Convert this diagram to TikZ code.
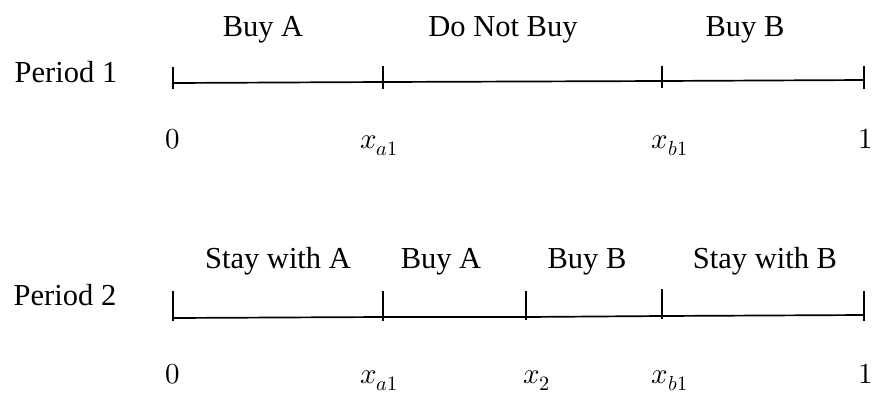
\documentclass[tikz,border=0pt]{standalone}
\usepackage{fontspec}
\usepackage{unicode-math}
\setmainfont{Liberation Serif}
\setmathfont{Latin Modern Math}
\begin{document}
\begin{tikzpicture}[yscale=-1
,pstyle0/.style={color=black,line width=1.7pt}
,pstyle1/.style={color=black,inner sep=0,anchor=base,font=\fontsize{30.5}{34}\selectfont}
,pstyle2/.style={color=black,inner sep=0,anchor=base,font=\fontsize{29}{32}\selectfont}
]
\useasboundingbox (0pt,0pt) rectangle (880pt,405pt);
% period 1
\node (per1) at (66pt,82pt)[pstyle1]{Period 1};
\coordinate (p1a) at (173pt,83pt);
\coordinate (p1b) at (383pt,82pt);
\coordinate (p1c) at (662pt,81pt);
\coordinate (p1d) at (864pt,80pt);
\coordinate (p1ta) at (173pt,67pt);
\coordinate (p1tb) at (383pt,66pt);
\coordinate (p1tc) at (662pt,66pt);
\coordinate (p1td) at (864pt,66pt);
\coordinate (p1ba) at (173pt,89pt);
\coordinate (p1bb) at (383pt,89pt);
\coordinate (p1bc) at (662pt,88pt);
\coordinate (p1bd) at (864pt,89pt);
\draw[pstyle0] (p1a) -- (p1b) -- (p1c) -- (p1d);
\draw[pstyle0] (p1ta) -- (p1ba);
\draw[pstyle0] (p1tb) -- (p1bb);
\draw[pstyle0] (p1tc) -- (p1bc);
\draw[pstyle0] (p1td) -- (p1bd);
\node (buya1) at (263pt,36pt)[pstyle1]{Buy A};
\node (nobuy) at (503pt,36pt)[pstyle1]{Do Not Buy};
\node (buyb1) at (745pt,36pt)[pstyle1]{Buy B};
\node (zero1) at (173pt,148pt)[pstyle2]{$0$};
\node (xa1) at (379pt,148pt)[pstyle2]{$x_{a1}$};
\node (xb1) at (670pt,148pt)[pstyle2]{$x_{b1}$};
\node (one1) at (866pt,148pt)[pstyle2]{$1$};
% period 2
\node (per2) at (65pt,305pt)[pstyle1]{Period 2};
\coordinate (p2a) at (173pt,318pt);
\coordinate (p2b) at (383pt,317pt);
\coordinate (p2c) at (526pt,317pt);
\coordinate (p2d) at (662pt,316pt);
\coordinate (p2e) at (864pt,315pt);
\coordinate (p2ta) at (173pt,291pt);
\coordinate (p2tb) at (383pt,291pt);
\coordinate (p2tc) at (526pt,291pt);
\coordinate (p2td) at (662pt,289pt);
\coordinate (p2te) at (864pt,291pt);
\coordinate (p2ba) at (173pt,321pt);
\coordinate (p2bb) at (383pt,321pt);
\coordinate (p2bc) at (526pt,320pt);
\coordinate (p2bd) at (662pt,319pt);
\coordinate (p2be) at (864pt,321pt);
\draw[pstyle0] (p2a) -- (p2b) -- (p2c) -- (p2d) -- (p2e);
\draw[pstyle0] (p2ta) -- (p2ba);
\draw[pstyle0] (p2tb) -- (p2bb);
\draw[pstyle0] (p2tc) -- (p2bc);
\draw[pstyle0] (p2td) -- (p2bd);
\draw[pstyle0] (p2te) -- (p2be);
\node (staya) at (278pt,268pt)[pstyle1]{Stay with A};
\node (buya2) at (441pt,268pt)[pstyle1]{Buy A};
\node (buyb2) at (587pt,268pt)[pstyle1]{Buy B};
\node (stayb) at (765pt,268pt)[pstyle1]{Stay with B};
\node (zero2) at (173pt,383pt)[pstyle2]{$0$};
\node (xa2) at (379pt,383pt)[pstyle2]{$x_{a1}$};
\node (xtwo) at (537pt,383pt)[pstyle2]{$x_{2}$};
\node (xb2) at (670pt,383pt)[pstyle2]{$x_{b1}$};
\node (one2) at (866pt,383pt)[pstyle2]{$1$};
\end{tikzpicture}
\end{document}
